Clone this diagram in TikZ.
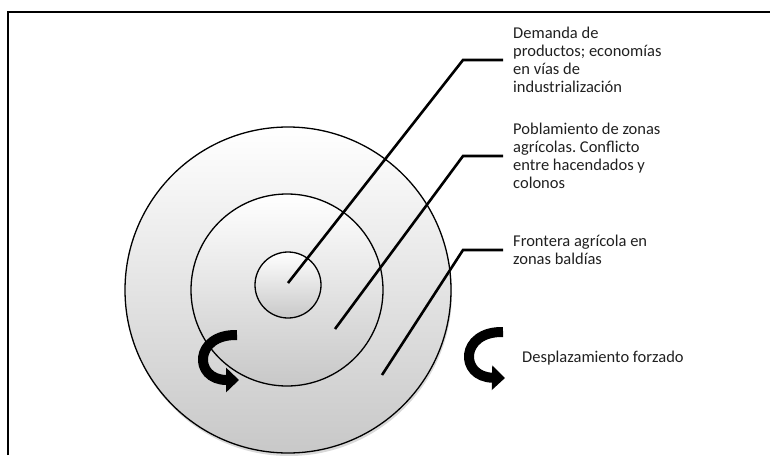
\documentclass[tikz,border=0pt]{standalone}
\usepackage{fontspec}
\setmainfont{Carlito}
\usepackage{tikz}
\usetikzlibrary{arrows.meta,shadows}
\frenchspacing
\definecolor{ink}{HTML}{202020}
\definecolor{ringlow}{HTML}{C8C8C8}
\tikzset{
  ring/.style={circle, draw=black, line width=1.3pt, top color=white, bottom color=ringlow, inner sep=0pt},
  leader/.style={draw=black, line width=2.6pt},
  note/.style={anchor=west, align=left, inner xsep=10pt, inner ysep=0pt, text=ink, font=\fontsize{16.5}{18}\selectfont},
  turn/.style={line width=10pt, -{Triangle[width=24pt,length=13pt]}},
}

\begin{document}
\begin{tikzpicture}[x=1pt,y=-1pt]
\useasboundingbox (0,0) rectangle (770,455);
% frame
\draw[line width=2pt] (8,455) -- (8,12) -- (770,12);

% rings
\node[ring, minimum size=326pt, drop shadow={shadow xshift=1pt, shadow yshift=-3pt, opacity=0.3}] (outer) at (288,290) {};
\node[ring, minimum size=192pt] (middle) at (287,290) {};
\node[ring, minimum size=66pt] (core) at (288,285) {};

% labels
\node[note] (demanda) at (503,60) {Demanda de\\productos; economías\\en vías de\\industrialización};
\node[note] (poblamiento) at (503,156) {Poblamiento de zonas\\agrícolas. Conflicto\\entre hacendados y\\colonos};
\node[note] (frontera) at (503,250) {Frontera agrícola en\\zonas baldías};
\node[note] (desplazamiento) at (512,358) {Desplazamiento forzado};

% leaders
\coordinate (p1) at (288,283);
\coordinate (p2) at (335,329);
\coordinate (p3) at (382,375);
\draw[leader] (p1) -- (463,60) -- (demanda.west);
\draw[leader] (p2) -- (463,156) -- (poblamiento.west);
\draw[leader] (p3) -- (463,250) -- (frontera.west);

% turning arrows
\draw[turn] (237,335) .. controls (194,334) and (193,380) .. (239,380);
\draw[turn] (503,332) .. controls (460,331) and (459,377) .. (505,378);
\end{tikzpicture}
\end{document}
